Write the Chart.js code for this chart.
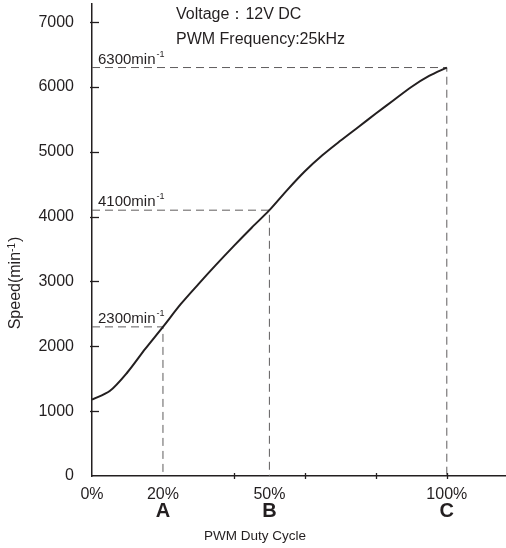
<!DOCTYPE html>
<html>
<head>
<meta charset="utf-8">
<script src="https://cdn.jsdelivr.net/npm/chart.js@4.4.1/dist/chart.umd.min.js"></script>
<style>
  html, body { margin: 0; padding: 0; background: #fff; }
  #wrap { width: 506px; height: 548px; }
</style>
</head>
<body>
<div id="wrap"><canvas id="speedChart"></canvas></div>
<script>
// PWM duty (%) vs speed (min-1)
const duty = [0, 5, 10, 15, 20, 25, 30, 35, 40, 45, 50, 55, 60, 65, 70, 75, 80, 85, 90, 95, 100];
const speed = [1180, 1310, 1600, 1960, 2300, 2650, 2960, 3260, 3550, 3830, 4100, 4410, 4700, 4950, 5170, 5380, 5590, 5795, 6000, 6170, 6300];

// reference points A, B, C
const refLetters = ['A', 'B', 'C'];
const refDuty = [20, 50, 100];
const refSpeed = [2300, 4100, 6300];

const xTickLabels = [0, 20, 50, 100];
const xMinorTicks = [40, 60, 80, 100];
const yTicks = [0, 1000, 2000, 3000, 4000, 5000, 6000, 7000];

const ink = '#231f20';
const dashGrey = '#5f5c5d';
const fam = '"Liberation Sans", Arial, sans-serif';

const refSets = refDuty.map((d, i) => ({
    data: [{ x: 0, y: refSpeed[i] }, { x: d, y: refSpeed[i] }, { x: d, y: 0 }],
    borderColor: dashGrey,
    borderWidth: 1,
    borderDash: [8, 5],
    pointRadius: 0,
    tension: 0,
    fill: false
}));

const overlay = {
    id: 'overlay',
    afterDraw(chart) {
        const ctx = chart.ctx;
        const xs = chart.scales.x, ys = chart.scales.y;
        const x0 = xs.getPixelForValue(0), yBase = ys.getPixelForValue(0);
        ctx.save();
        ctx.strokeStyle = ink;
        ctx.lineWidth = 1.3;
        // small tick marks
        yTicks.slice(1).forEach(v => {
            const p = Math.round(ys.getPixelForValue(v)) + 0.5;
            ctx.beginPath(); ctx.moveTo(x0 - 2, p); ctx.lineTo(x0 + 7, p); ctx.stroke();
        });
        xMinorTicks.forEach(v => {
            const p = Math.round(xs.getPixelForValue(v)) + 0.5;
            ctx.beginPath(); ctx.moveTo(p, yBase - 3); ctx.lineTo(p, yBase + 3); ctx.stroke();
        });

        ctx.fillStyle = ink;
        // speed labels on dashed lines
        refSpeed.forEach(v => {
            const py = ys.getPixelForValue(v) - 4;
            ctx.font = '15px ' + fam;
            ctx.textAlign = 'left';
            ctx.textBaseline = 'alphabetic';
            const t = v + 'min';
            ctx.fillText(t, x0 + 6, py);
            const w = ctx.measureText(t).width;
            ctx.font = '9px ' + fam;
            ctx.fillText('-1', x0 + 7 + w, py - 7);
        });

        // A B C letters
        ctx.font = 'bold 20px ' + fam;
        ctx.textAlign = 'center';
        ctx.textBaseline = 'middle';
        refLetters.forEach((l, i) => {
            ctx.fillText(l, xs.getPixelForValue(refDuty[i]), 511);
        });

        // conditions
        ctx.font = '16px ' + fam;
        ctx.textAlign = 'left';
        ctx.fillText('Voltage：12V DC', 176, 15);
        ctx.fillText('PWM Frequency:25kHz', 176, 40);

        // x axis title
        ctx.font = '13.5px ' + fam;
        ctx.textAlign = 'center';
        ctx.fillText('PWM Duty Cycle', 255, 536);

        // y axis title
        ctx.translate(16, 283);
        ctx.rotate(-Math.PI / 2);
        ctx.font = '16px ' + fam;
        const a = 'Speed(min', b = ')';
        const wa = ctx.measureText(a).width;
        const wb = ctx.measureText(b).width;
        ctx.font = '10px ' + fam;
        const ws = ctx.measureText('-1').width;
        let sx = -(wa + ws + wb + 1) / 2;
        ctx.textAlign = 'left';
        ctx.font = '16px ' + fam;
        ctx.fillText(a, sx, 0);
        ctx.font = '10px ' + fam;
        ctx.fillText('-1', sx + wa, -4);
        ctx.font = '16px ' + fam;
        ctx.fillText(b, sx + wa + ws + 1, 0);
        ctx.restore();
    }
};

new Chart(document.getElementById('speedChart').getContext('2d'), {
    type: 'line',
    data: {
        datasets: [{
            data: duty.map((d, i) => ({ x: d, y: speed[i] })),
            borderColor: ink,
            borderWidth: 2,
            pointRadius: 0,
            tension: 0.3,
            fill: false
        }, ...refSets]
    },
    options: {
        responsive: true,
        maintainAspectRatio: false,
        animation: false,
        events: [],
        layout: { padding: { top: 4, right: 1, left: 0, bottom: 0 } },
        plugins: { legend: { display: false }, tooltip: { enabled: false } },
        scales: {
            x: {
                type: 'linear',
                min: 0,
                max: 116.4,
                grid: { display: false },
                border: { color: ink, width: 1.5 },
                afterBuildTicks: s => { s.ticks = xTickLabels.map(v => ({ value: v })); },
                afterFit: s => { s.height = 72; s.paddingLeft = 0; s.paddingRight = 0; },
                ticks: {
                    padding: 1,
                    maxRotation: 0,
                    autoSkip: false,
                    color: ink,
                    font: { family: fam, size: 16 },
                    callback: v => v + '%'
                }
            },
            y: {
                min: 0,
                max: 7280,
                grid: { display: false },
                border: { color: ink, width: 1.5 },
                afterBuildTicks: s => { s.ticks = yTicks.map(v => ({ value: v })); },
                afterFit: s => { s.width = 92; s.paddingTop = 0; s.paddingBottom = 0; },
                ticks: {
                    padding: 10,
                    color: ink,
                    font: { family: fam, size: 16 },
                    callback: v => String(v)
                }
            }
        }
    },
    plugins: [overlay]
});
</script>
</body>
</html>
